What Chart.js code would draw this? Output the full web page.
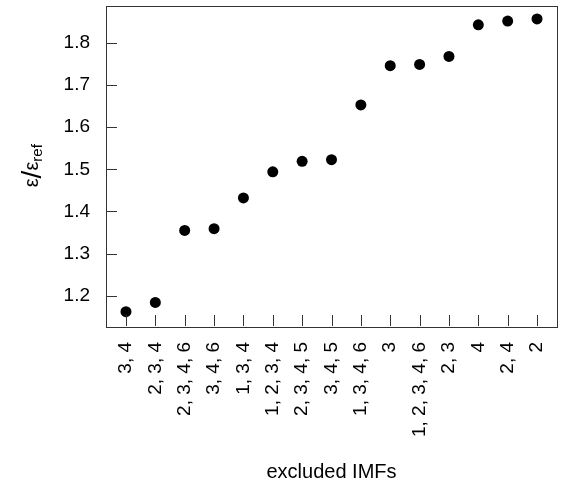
<!DOCTYPE html>
<html>
<head>
<meta charset="utf-8">
<script src="https://cdn.jsdelivr.net/npm/chart.js@4"></script>
<style>
  body { margin: 0; background: #fff; }
  #wrap { width: 569px; height: 486px; }
</style>
</head>
<body>
<div id="wrap"><canvas id="myChart" width="569" height="486"></canvas></div>
<script>
const categories = ['3, 4', '2, 3, 4', '2, 3, 4, 6', '3, 4, 6', '1, 3, 4', '1, 2, 3, 4', '2, 3, 4, 5',
  '3, 4, 5', '1, 3, 4, 6', '3', '1, 2, 3, 4, 6', '2, 3', '4', '2, 4', '2'];
const ratios = [1.162, 1.184, 1.355, 1.359, 1.432, 1.494, 1.519, 1.523, 1.653, 1.746, 1.749, 1.768, 1.843, 1.852, 1.857];
const yTicks = [1.2, 1.3, 1.4, 1.5, 1.6, 1.7, 1.8];

const frameColor = '#333';
const fontFamily = '"Liberation Sans", Arial, Helvetica, sans-serif';

// box around the plot + inward tick marks + axis titles
const framePlugin = {
  id: 'frame',
  afterDraw(chart) {
    const c = chart.ctx;
    const a = chart.chartArea;
    const xs = chart.scales.x;
    const ys = chart.scales.y;
    c.save();
    c.strokeStyle = frameColor;
    c.lineWidth = 1;
    c.strokeRect(Math.round(a.left) + 0.5, Math.round(a.top) + 0.5,
      Math.round(a.right - a.left), Math.round(a.bottom - a.top));
    c.beginPath();
    xs.ticks.forEach(t => {
      const px = Math.round(xs.getPixelForValue(t.value)) + 0.5;
      c.moveTo(px, a.bottom);
      c.lineTo(px, a.bottom - 11);
    });
    ys.ticks.forEach(t => {
      const py = Math.round(ys.getPixelForValue(t.value)) + 0.5;
      c.moveTo(a.left, py);
      c.lineTo(a.left + 11, py);
    });
    c.stroke();

    // x title
    c.fillStyle = '#000';
    c.font = '20px ' + fontFamily;
    c.textAlign = 'center';
    c.textBaseline = 'middle';
    c.fillText('excluded IMFs', (a.left + a.right) / 2, 472);

    // y title: epsilon / epsilon_ref
    c.translate(32, (a.top + a.bottom) / 2);
    c.rotate(-Math.PI / 2);
    c.textBaseline = 'alphabetic';
    c.textAlign = 'left';
    const big = '20px ' + fontFamily;
    const slash = '28px ' + fontFamily;
    const small = '15px ' + fontFamily;
    c.font = big;
    const w1 = c.measureText('ε').width;
    c.font = slash;
    const w2 = c.measureText('/').width;
    c.font = big;
    const w3 = c.measureText('ε').width;
    c.font = small;
    const w4 = c.measureText('ref').width;
    let x0 = -(w1 + w2 + w3 + w4) / 2;
    const base = 6;
    c.font = big;
    c.fillText('ε', x0, base);
    x0 += w1;
    c.font = slash;
    c.fillText('/', x0, base + 3);
    x0 += w2;
    c.font = big;
    c.fillText('ε', x0, base);
    x0 += w3;
    c.font = small;
    c.fillText('ref', x0, base + 4);
    c.restore();
  }
};

function noPad(scale) {
  scale.paddingTop = 0;
  scale.paddingBottom = 0;
  scale.paddingLeft = 0;
  scale.paddingRight = 0;
}

const points = ratios.map((v, i) => ({ x: i, y: v }));

new Chart(document.getElementById('myChart'), {
  type: 'scatter',
  data: {
    datasets: [{
      data: points,
      backgroundColor: '#000',
      borderWidth: 0,
      pointRadius: 5.5,
      pointHoverRadius: 5.5
    }]
  },
  options: {
    responsive: false,
    animation: false,
    devicePixelRatio: 1,
    layout: { padding: { left: 0, top: 5, right: 12, bottom: 0 } },
    plugins: {
      legend: { display: false },
      tooltip: { enabled: false }
    },
    scales: {
      x: {
        type: 'linear',
        min: -0.68,
        max: 14.68,
        afterBuildTicks(scale) {
          scale.ticks = categories.map((c, i) => ({ value: i }));
        },
        afterFit(scale) { scale.height = 160; noPad(scale); },
        grid: { display: false, drawTicks: false },
        border: { display: false },
        ticks: {
          autoSkip: false,
          maxRotation: 90,
          minRotation: 90,
          padding: 16,
          color: '#000',
          font: { family: fontFamily, size: 19 },
          callback: (v) => categories[v]
        }
      },
      y: {
        min: 1.128,
        max: 1.889,
        afterBuildTicks(scale) {
          scale.ticks = yTicks.map(v => ({ value: v }));
        },
        afterFit(scale) { scale.width = 106; noPad(scale); },
        grid: { display: false, drawTicks: false },
        border: { display: false },
        ticks: {
          padding: 16,
          color: '#000',
          font: { family: fontFamily, size: 19 },
          callback: (v) => v.toFixed(1)
        }
      }
    }
  },
  plugins: [framePlugin]
});
</script>
</body>
</html>
